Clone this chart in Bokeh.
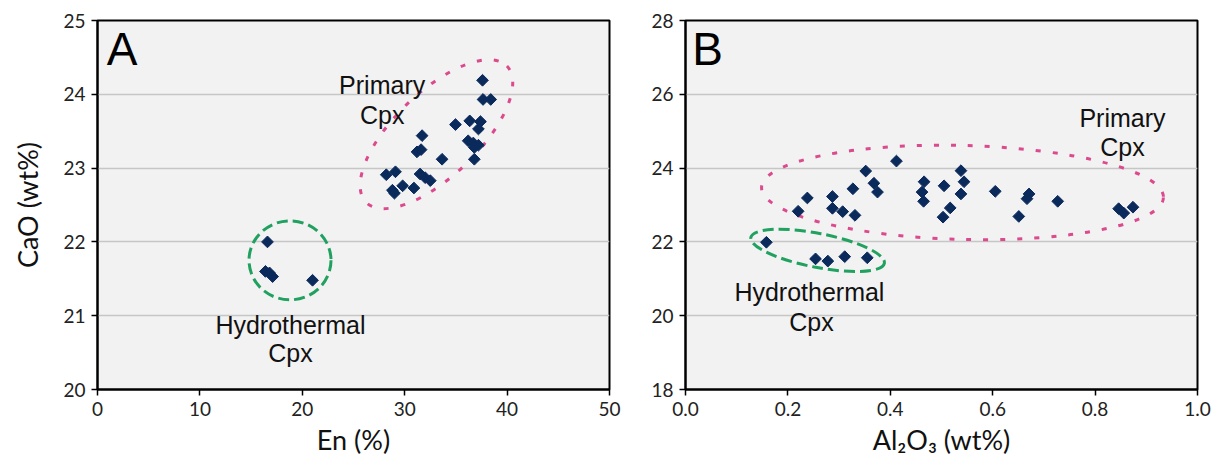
import math

from bokeh.core.properties import value
from bokeh.embed import file_html
from bokeh.layouts import row
from bokeh.models import FixedTicker, PrintfTickFormatter
from bokeh.plotting import figure
from bokeh.resources import INLINE

# ---- Panel A: CaO vs En ----
en_primary = [37.6, 37.65, 38.4, 34.96, 36.35, 37.4, 37.2, 31.7, 36.2, 36.7,
              37.2, 36.8, 31.2, 31.6, 33.65, 36.8, 28.2, 29.1, 31.5, 32.0,
              32.5, 29.8, 30.9, 28.8, 29.0]
cao_primary_a = [24.19, 23.93, 23.93, 23.59, 23.64, 23.63, 23.53, 23.44, 23.37, 23.34,
                 23.31, 23.28, 23.22, 23.25, 23.12, 23.12, 22.91, 22.95, 22.92, 22.87,
                 22.83, 22.76, 22.73, 22.70, 22.66]
en_hydro = [16.6, 16.4, 16.8, 17.1, 21.0]
cao_hydro_a = [22.0, 21.6, 21.58, 21.53, 21.48]

# ---- Panel B: CaO vs Al2O3 ----
al_primary = [0.220, 0.238, 0.287, 0.287, 0.307, 0.331, 0.327, 0.352, 0.368, 0.375,
              0.412, 0.466, 0.462, 0.465, 0.505, 0.517, 0.503, 0.538, 0.544, 0.538,
              0.605, 0.671, 0.667, 0.651, 0.727, 0.846, 0.856, 0.874]
cao_primary_b = [22.83, 23.19, 23.23, 22.91, 22.82, 22.72, 23.44, 23.92, 23.59, 23.35,
                 24.19, 23.63, 23.35, 23.10, 23.52, 22.92, 22.67, 23.93, 23.63, 23.30,
                 23.37, 23.30, 23.17, 22.69, 23.10, 22.90, 22.78, 22.94]
al_hydro = [0.158, 0.254, 0.278, 0.311, 0.355]
cao_hydro_b = [21.99, 21.54, 21.48, 21.60, 21.57]

# tick positions
a_xticks = [0, 10, 20, 30, 40, 50]
a_yticks = [20, 21, 22, 23, 24, 25]
b_xticks = [0.0, 0.2, 0.4, 0.6, 0.8, 1.0]
b_yticks = [18, 20, 22, 24, 26, 28]

NAVY = "#0b2a5c"
PINK = "#dc4a8e"
GREEN = "#20a160"
TICK_FONT = "Lato"
NOTE_FONT = "Liberation Sans"
MARKER_SIZE = 8.3


def base_figure(width, left, right, x_range, y_range):
    p = figure(width=width, height=461, x_range=x_range, y_range=y_range,
               min_border_left=left, min_border_right=right,
               min_border_top=20, min_border_bottom=72,
               output_backend="svg", toolbar_location=None)
    p.background_fill_color = "#f2f2f2"
    p.border_fill_color = "white"
    p.outline_line_color = "black"
    p.outline_line_width = 2
    p.xgrid.visible = False
    p.ygrid.grid_line_color = "#c6c6c6"
    p.ygrid.grid_line_width = 1.5
    for ax in (p.xaxis[0], p.yaxis[0]):
        ax.axis_line_color = "black"
        ax.axis_line_width = 2
        ax.major_tick_line_color = "black"
        ax.major_tick_line_width = 1.5
        ax.major_tick_out = 6
        ax.major_tick_in = 0
        ax.minor_tick_line_color = None
        ax.major_label_text_font = TICK_FONT
        ax.major_label_text_font_size = "19px"
        ax.major_label_text_color = "#222222"
        ax.axis_label_text_font = TICK_FONT
        ax.axis_label_text_font_size = "27px"
        ax.axis_label_text_font_style = "normal"
        ax.axis_label_text_color = "#111111"
    p.xaxis.major_label_standoff = 6
    p.yaxis.major_label_standoff = 6
    return p


def notes(p, xs, ys, texts):
    p.text(x=xs, y=ys, text=texts, text_font=value(NOTE_FONT),
           text_font_size="25px", text_align="center",
           text_baseline="alphabetic", text_color="#111111")


# ---------------- Panel A ----------------
pa = base_figure(645, 97, 36, (0, 50), (20, 25))
pa.xaxis.ticker = FixedTicker(ticks=a_xticks)
pa.yaxis.ticker = FixedTicker(ticks=a_yticks)
pa.xaxis.axis_label = "En (%)"
pa.yaxis.axis_label = "CaO (wt%)"
pa.xaxis.axis_label_standoff = 4
pa.yaxis.axis_label_standoff = 16

pa.ellipse(x=[33.1], y=[23.46], width=[196], height=[84], angle=[math.radians(44)],
           width_units="screen", height_units="screen", fill_color=None,
           line_color=PINK, line_width=3, line_dash="5 12")
pa.ellipse(x=[18.8], y=[21.75], width=[82], height=[79],
           width_units="screen", height_units="screen", fill_color=None,
           line_color=GREEN, line_width=3, line_dash="11 5")

pa.scatter(en_primary, cao_primary_a, marker="square", angle=math.pi / 4, size=MARKER_SIZE,
           fill_color=NAVY, line_color=NAVY)
pa.scatter(en_hydro, cao_hydro_a, marker="square", angle=math.pi / 4, size=MARKER_SIZE,
           fill_color=NAVY, line_color=NAVY)

notes(pa, [27.8, 27.8, 18.84, 18.84], [24.12, 23.72, 20.88, 20.50],
      ["Primary", "Cpx", "Hydrothermal", "Cpx"])
pa.text(x=[0.9], y=[24.62], text=["A"], text_font=value(NOTE_FONT),
        text_font_size="46px", text_baseline="alphabetic", text_color="black")

# ---------------- Panel B ----------------
pb = base_figure(575, 40, 23, (0, 1), (18, 28))
pb.xaxis.ticker = FixedTicker(ticks=b_xticks)
pb.yaxis.ticker = FixedTicker(ticks=b_yticks)
pb.xaxis.formatter = PrintfTickFormatter(format="%.1f")
pb.xaxis.axis_label = "Al\u2082O\u2083 (wt%)"
pb.xaxis.axis_label_standoff = 4

pb.ellipse(x=[0.541], y=[23.34], width=[402], height=[94], angle=[-0.025],
           width_units="screen", height_units="screen", fill_color=None,
           line_color=PINK, line_width=3, line_dash="5 12")
pb.ellipse(x=[0.258], y=[21.77], width=[136], height=[34], angle=[math.radians(-11)],
           width_units="screen", height_units="screen", fill_color=None,
           line_color=GREEN, line_width=3, line_dash="11 5")

pb.scatter(al_primary, cao_primary_b, marker="square", angle=math.pi / 4, size=MARKER_SIZE,
           fill_color=NAVY, line_color=NAVY)
pb.scatter(al_hydro, cao_hydro_b, marker="square", angle=math.pi / 4, size=MARKER_SIZE,
           fill_color=NAVY, line_color=NAVY)

notes(pb, [0.8535, 0.8535, 0.242, 0.246], [25.36, 24.56, 20.63, 19.84],
      ["Primary", "Cpx", "Hydrothermal", "Cpx"])
pb.text(x=[0.013], y=[27.24], text=["B"], text_font=value(NOTE_FONT),
        text_font_size="46px", text_baseline="alphabetic", text_color="black")

layout = row(pa, pb)
open("out.html", "w").write(file_html(layout, INLINE))
